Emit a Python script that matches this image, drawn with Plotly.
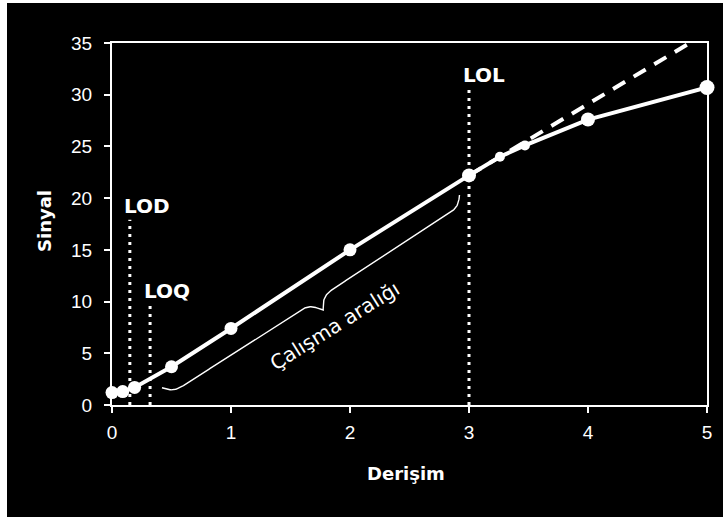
import numpy as np
import plotly.graph_objects as go

# ---- data ----
conc = [0, 0.09, 0.19, 0.5, 1, 2, 3, 3.26, 3.47, 4, 5]
signal = [1.2, 1.3, 1.7, 3.7, 7.4, 15.0, 22.2, 24.0, 25.1, 27.6, 30.7]
ext_conc = [3, 5]
ext_signal = [22.2, 36.0]
limit_names = ["LOD", "LOQ", "LOL"]
limit_conc = [0.15, 0.32, 3.0]
limit_top = [17.9, 9.7, 30.6]
range_label = "Çalışma aralığı"
brace_start = (0.42, 1.67)
brace_end = (2.92, 20.3)
x_ticks = [0, 1, 2, 3, 4, 5]
y_ticks = [0, 5, 10, 15, 20, 25, 30, 35]
x_title = "Derişim"
y_title = "Sinyal"

# ---- layout constants ----
W, H = 723, 517
ML, MR, MT, MB = 112, 16, 43, 112
PW, PH = W - ML - MR, H - MT - MB
XR, YR = (0, 5), (0, 35)
sx = PW / (XR[1] - XR[0])
sy = PH / (YR[1] - YR[0])

WHITE = "#ffffff"

fig = go.Figure()

# extrapolated linear part (dashed)
fig.add_trace(go.Scatter(x=ext_conc, y=ext_signal, mode="lines",
                         line=dict(color=WHITE, width=4, dash="14px,10px"),
                         hoverinfo="skip", showlegend=False))

# dotted limit lines
for name, xv, top in zip(limit_names, limit_conc, limit_top):
    fig.add_trace(go.Scatter(x=[xv, xv], y=[0, top], mode="lines",
                             line=dict(color=WHITE, width=3, dash="3px,5px"),
                             hoverinfo="skip", showlegend=False))
    fig.add_annotation(x=xv, y=top, text="<b>%s</b>" % name, showarrow=False,
                       xanchor="left", yanchor="middle", xshift=-8, yshift=14,
                       font=dict(family="DejaVu Sans", size=20, color=WHITE))

# main calibration curve
sizes = [13, 13, 13, 13, 13, 13, 14, 10, 10, 14, 15]
fig.add_trace(go.Scatter(x=conc, y=signal, mode="lines+markers",
                         line=dict(color=WHITE, width=4),
                         marker=dict(color=WHITE, size=sizes, opacity=1, line=dict(width=0)),
                         cliponaxis=False, hoverinfo="skip", showlegend=False))

# curly brace (built in pixel space, converted to data space)
p0 = np.array([ML + (brace_start[0] - XR[0]) * sx, MT + PH - (brace_start[1] - YR[0]) * sy])
p1 = np.array([ML + (brace_end[0] - XR[0]) * sx, MT + PH - (brace_end[1] - YR[0]) * sy])
vec = p1 - p0
L = np.hypot(*vec)
u = vec / L
n = np.array([u[1], -u[0]])  # toward the curve (up-left on screen)
if n[1] > 0:
    n = -n
h1, h2, q = 10.0, 13.0, 0.25
s = np.linspace(0, L, 500)
sig = lambda z: 1 / (1 + np.exp(-z))
sh = np.minimum(s, L - s)
d = -h1 * (2 * sig(q * sh) - 1) - h2 * 2 * sig(q * (sh - L / 2))
px = p0[0] + s * u[0] + d * n[0]
py = p0[1] + s * u[1] + d * n[1]
bx = XR[0] + (px - ML) / sx
by = YR[0] + (MT + PH - py) / sy
fig.add_trace(go.Scatter(x=bx, y=by, mode="lines", line=dict(color=WHITE, width=1.4),
                         hoverinfo="skip", showlegend=False))

fig.add_annotation(x=1.87, y=7.6, text=range_label, showarrow=False, textangle=-32,
                   xanchor="center", yanchor="middle",
                   font=dict(family="DejaVu Sans", size=20, color=WHITE))

# axis titles
fig.add_annotation(xref="paper", yref="paper", x=(44 - ML) / PW, y=(MT + PH - 221) / PH,
                   xanchor="center", yanchor="middle",
                   text="<b>%s</b>" % y_title, textangle=-90, showarrow=False,
                   font=dict(family="DejaVu Sans", size=18, color=WHITE))
fig.add_annotation(xref="paper", yref="paper", x=(406 - ML) / PW, y=(MT + PH - 473) / PH,
                   xanchor="center", yanchor="middle",
                   text="<b>%s</b>" % x_title, showarrow=False,
                   font=dict(family="DejaVu Sans", size=18, color=WHITE))

# white strips at left/top edge of image
fig.add_shape(type="rect", xref="paper", yref="paper",
              x0=(0 - ML) / PW, x1=(7 - ML) / PW, y0=(MT + PH - H) / PH, y1=(MT + PH) / PH,
              fillcolor=WHITE, line_width=0, layer="below")
fig.add_shape(type="rect", xref="paper", yref="paper",
              x0=(0 - ML) / PW, x1=(W - ML) / PW, y0=(MT + PH - 3) / PH, y1=(MT + PH) / PH,
              fillcolor=WHITE, line_width=0, layer="below")

axis_common = dict(showline=True, linecolor=WHITE, linewidth=2, mirror=True,
                   showgrid=False, zeroline=False, ticks="outside", ticklen=6,
                   tickwidth=1.5, tickcolor=WHITE,
                   tickfont=dict(family="Liberation Sans, Arial", size=19, color=WHITE))
fig.update_xaxes(range=list(XR), tickvals=x_ticks, ticklabelstandoff=3, **axis_common)
fig.update_yaxes(range=list(YR), tickvals=y_ticks, ticklabelstandoff=8, **axis_common)

fig.update_layout(width=W, height=H, margin=dict(l=ML, r=MR, t=MT, b=MB),
                  paper_bgcolor="#000000", plot_bgcolor="#000000",
                  showlegend=False)

fig.write_html("out.html", config={"displayModeBar": False},
               post_script="document.body.style.margin='0';document.body.style.overflow='hidden';")
